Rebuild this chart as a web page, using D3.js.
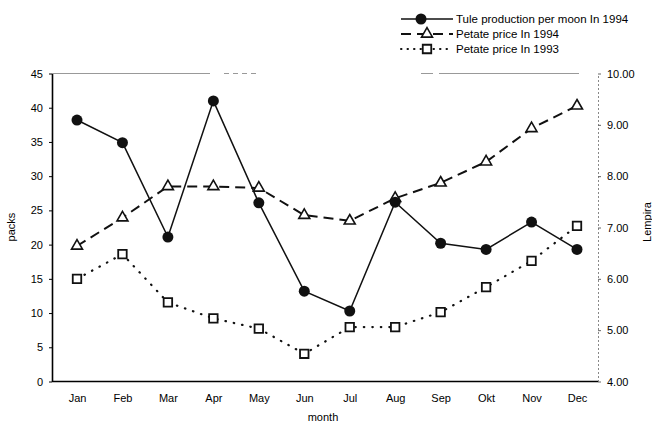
<!DOCTYPE html>
<html>
<head>
<meta charset="utf-8">
<script src="https://cdn.jsdelivr.net/npm/d3@7"></script>
<style>
body { margin: 0; background: #fff; }
text { font-family: "Liberation Sans", Arial, sans-serif; }
</style>
</head>
<body>
<script>
var w = 652;
var h = 423;

var months = ["Jan", "Feb", "Mar", "Apr", "May", "Jun", "Jul", "Aug", "Sep", "Okt", "Nov", "Dec"];
var tule = [38.2, 34.9, 21.1, 41.0, 26.1, 13.2, 10.3, 26.2, 20.2, 19.3, 23.3, 19.3];
var price94 = [6.64, 7.19, 7.80, 7.80, 7.77, 7.24, 7.13, 7.57, 7.87, 8.28, 8.93, 9.37];
var price93 = [6.00, 6.48, 5.54, 5.23, 5.03, 4.54, 5.06, 5.06, 5.35, 5.84, 6.35, 7.03];
var leftTicks = [0, 5, 10, 15, 20, 25, 30, 35, 40, 45];
var rightTicks = [4, 5, 6, 7, 8, 9, 10];
var legendLabels = ["Tule production per moon In 1994", "Petate price In 1994", "Petate price In 1993"];

// plot box (note: "top" is taken by window.top, so prefix these)
var pLeft = 52, pRight = 598, pTop = 73.5, pBottom = 381.5;

var svg = d3.select("body").append("svg")
	.attr("width", w)
	.attr("height", h);

var x = d3.scalePoint().domain(months).range([pLeft + 25, pRight - 21]);
var yL = d3.scaleLinear().domain([0, 45]).range([pBottom, pTop]);
var yR = d3.scaleLinear().domain([4, 10]).range([pBottom, pTop]);

// frame: faint, broken top edge like the scan
svg.append("line")
	.attr("x1", pLeft).attr("x2", pRight)
	.attr("y1", pTop).attr("y2", pTop)
	.attr("stroke", "#999").attr("stroke-width", 1)
	.attr("stroke-dasharray", "158,14,5,4,5,4,5,4,5,165,12,6,140");

var axL = svg.append("g")
	.attr("transform", "translate(" + pLeft + ",0)")
	.call(d3.axisLeft(yL).tickValues(leftTicks).tickSize(3).tickPadding(6).tickSizeOuter(0));
var axR = svg.append("g")
	.attr("transform", "translate(" + pRight + ",0)")
	.call(d3.axisRight(yR).tickValues(rightTicks).tickSize(3).tickPadding(6).tickSizeOuter(0)
		.tickFormat(d3.format(".2f")));
var axB = svg.append("g")
	.attr("transform", "translate(0," + pBottom + ")")
	.call(d3.axisBottom(x).tickSize(0).tickPadding(13));
axB.select(".domain").attr("d", "M" + pLeft + ",0H" + pRight);

axL.select(".domain").attr("stroke-width", 1.6);
axB.select(".domain").attr("stroke-width", 1.6);
axR.select(".domain").attr("stroke", "#888").attr("stroke-dasharray", "2,2");
axR.selectAll(".tick line").attr("stroke", "#666");

svg.selectAll(".tick text")
	.attr("font-size", "11px")
	.attr("font-family", "Liberation Sans, Arial, sans-serif")
	.attr("fill", "#000");

// axis titles
svg.append("text")
	.attr("transform", "translate(15,227) rotate(-90)")
	.attr("text-anchor", "middle")
	.attr("font-size", "11px")
	.text("packs");
svg.append("text")
	.attr("transform", "translate(651,222) rotate(-90)")
	.attr("text-anchor", "middle")
	.attr("font-size", "11px")
	.text("Lempira");
svg.append("text")
	.attr("x", (pLeft + pRight) / 2 - 2)
	.attr("y", 421)
	.attr("text-anchor", "middle")
	.attr("font-size", "11px")
	.text("month");

// series
var line93 = d3.line()
	.x(function(d, i) { return x(months[i]); })
	.y(function(d) { return yR(d); });
var line94 = d3.line()
	.x(function(d, i) { return x(months[i]); })
	.y(function(d) { return yR(d); });
var lineTule = d3.line()
	.x(function(d, i) { return x(months[i]); })
	.y(function(d) { return yL(d); });

svg.append("path").datum(price93)
	.attr("d", line93)
	.attr("fill", "none").attr("stroke", "#111")
	.attr("stroke-width", 2.2)
	.attr("stroke-linecap", "round")
	.attr("stroke-dasharray", "0.5,8");
svg.append("path").datum(price94)
	.attr("d", line94)
	.attr("fill", "none").attr("stroke", "#111")
	.attr("stroke-width", 2)
	.attr("stroke-dasharray", "10,6");
svg.append("path").datum(tule)
	.attr("d", lineTule)
	.attr("fill", "none").attr("stroke", "#111")
	.attr("stroke-width", 1.5);

var sq = d3.symbol().type(d3.symbolSquare).size(72);
var tri = d3.symbol().type(d3.symbolTriangle).size(52);

svg.selectAll("path.sq")
	.data(price93).enter()
	.append("path")
	.attr("class", "sq")
	.attr("d", sq)
	.attr("transform", function(d, i) { return "translate(" + x(months[i]) + "," + yR(d) + ")"; })
	.attr("fill", "#fff").attr("stroke", "#111").attr("stroke-width", 1.8);

svg.selectAll("path.tri")
	.data(price94).enter()
	.append("path")
	.attr("class", "tri")
	.attr("d", tri)
	.attr("transform", function(d, i) { return "translate(" + x(months[i]) + "," + yR(d) + ")"; })
	.attr("fill", "#fff").attr("stroke", "#111").attr("stroke-width", 1.6);

svg.selectAll("circle.tule")
	.data(tule).enter()
	.append("circle")
	.attr("class", "tule")
	.attr("cx", function(d, i) { return x(months[i]); })
	.attr("cy", function(d) { return yL(d); })
	.attr("r", 5.5)
	.attr("fill", "#111");

// legend
var lg = svg.append("g").attr("transform", "translate(401,0)");
var rows = [19, 34, 49];
var dashes = [null, "10,6", "0.5,6"];
lg.selectAll("line")
	.data(rows).enter()
	.append("line")
	.attr("x1", 0).attr("x2", 52)
	.attr("y1", function(d) { return d; })
	.attr("y2", function(d) { return d; })
	.attr("stroke", "#111")
	.attr("stroke-width", function(d, i) { return i == 0 ? 1.5 : 2; })
	.attr("stroke-linecap", function(d, i) { return i == 2 ? "round" : "butt"; })
	.attr("stroke-dasharray", function(d, i) { return dashes[i]; });
lg.append("circle").attr("cx", 20).attr("cy", rows[0]).attr("r", 5.5).attr("fill", "#111");
lg.append("path").attr("d", tri)
	.attr("transform", "translate(26," + rows[1] + ")")
	.attr("fill", "#fff").attr("stroke", "#111").attr("stroke-width", 1.6);
lg.append("path").attr("d", sq)
	.attr("transform", "translate(26," + rows[2] + ")")
	.attr("fill", "#fff").attr("stroke", "#111").attr("stroke-width", 1.8);
lg.selectAll("text")
	.data(legendLabels).enter()
	.append("text")
	.attr("x", 55)
	.attr("y", function(d, i) { return rows[i] + 4; })
	.attr("font-size", "11.5px")
	.attr("fill", "#000")
	.text(function(d) { return d; });
</script>
</body>
</html>
